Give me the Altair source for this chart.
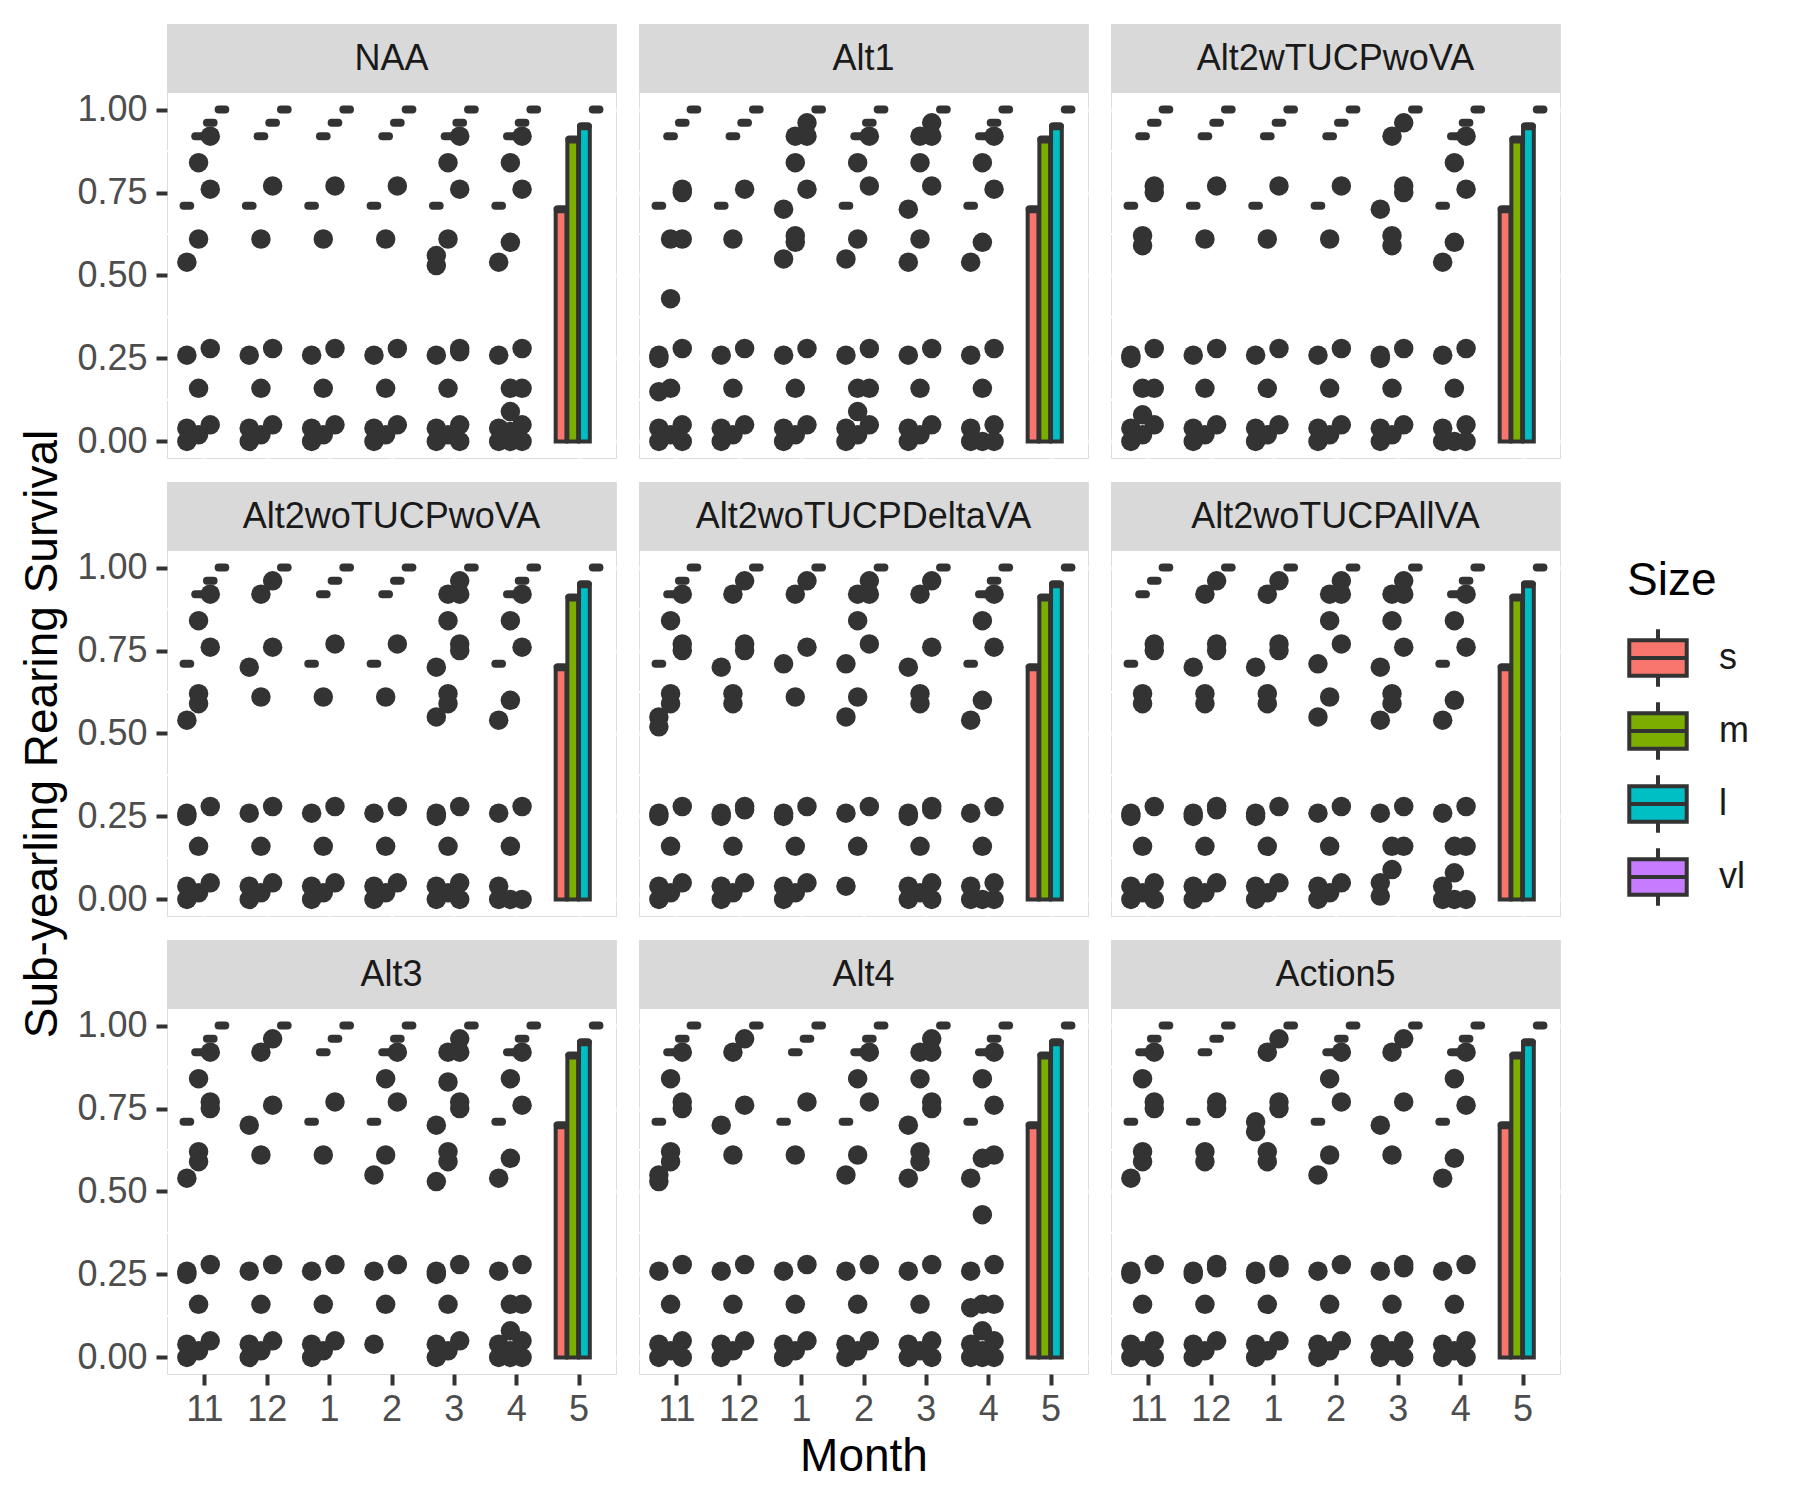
import altair as alt
import pandas as pd

# ---------------- data ----------------
PANELS = ["NAA", "Alt1", "Alt2wTUCPwoVA",
          "Alt2woTUCPwoVA", "Alt2woTUCPDeltaVA", "Alt2woTUCPAllVA",
          "Alt3", "Alt4", "Action5"]
MONTHS = ["11", "12", "1", "2", "3", "4", "5"]
SIZES = ["s", "m", "l", "vl"]
SIZE_COLORS = ["#F8766D", "#7CAE00", "#00BFC4", "#C77CFF"]

# box statistics (same in every panel)
BOX_LEVEL = [0.71, 0.92, 0.96, 1.00]      # months 11..4: q1 = median = q3
MAY_LOWER = [0.0, 0.0, 0.0, 1.00]         # month 5 lower hinge
MAY_UPPER = [0.70, 0.91, 0.95, 1.00]      # month 5 upper hinge (= median)

Y_TICKS = [0.0, 0.25, 0.50, 0.75, 1.00]
Y_MINOR = [0.125, 0.375, 0.625, 0.875]

# outliers per panel: month -> size -> values
OUT_NAA = {
    "11": {"s": [0.54, 0.26, 0.04, 0.0], "m": [0.84, 0.61, 0.16, 0.02], "l": [0.92, 0.76, 0.28, 0.05]},
    "12": {"s": [0.26, 0.04, 0.0], "m": [0.61, 0.16, 0.02], "l": [0.77, 0.28, 0.05]},
    "1": {"s": [0.26, 0.04, 0.0], "m": [0.61, 0.16, 0.02], "l": [0.77, 0.28, 0.05]},
    "2": {"s": [0.26, 0.04, 0.0], "m": [0.61, 0.16, 0.02], "l": [0.77, 0.28, 0.05]},
    "3": {"s": [0.56, 0.53, 0.26, 0.04, 0.0], "m": [0.84, 0.61, 0.16, 0.02], "l": [0.92, 0.76, 0.28, 0.27, 0.05, 0.0]},
    "4": {"s": [0.54, 0.26, 0.04, 0.0], "m": [0.84, 0.60, 0.16, 0.09, 0.03, 0.0], "l": [0.92, 0.76, 0.28, 0.16, 0.05, 0.0]},
}
OUT_ALT1 = {
    "11": {"s": [0.26, 0.25, 0.15, 0.04, 0.0], "m": [0.61, 0.43, 0.16, 0.02], "l": [0.76, 0.75, 0.61, 0.28, 0.05, 0.0]},
    "12": {"s": [0.26, 0.04, 0.0], "m": [0.61, 0.16, 0.02], "l": [0.76, 0.28, 0.05]},
    "1": {"s": [0.70, 0.55, 0.26, 0.04, 0.0], "m": [0.92, 0.84, 0.62, 0.60, 0.16, 0.02], "l": [0.96, 0.92, 0.76, 0.28, 0.05]},
    "2": {"s": [0.55, 0.26, 0.04, 0.0], "m": [0.84, 0.61, 0.16, 0.09, 0.02], "l": [0.92, 0.77, 0.28, 0.16, 0.05]},
    "3": {"s": [0.70, 0.54, 0.26, 0.04, 0.0], "m": [0.92, 0.84, 0.61, 0.16, 0.02], "l": [0.96, 0.92, 0.77, 0.28, 0.05]},
    "4": {"s": [0.54, 0.26, 0.04, 0.0], "m": [0.84, 0.60, 0.16, 0.0], "l": [0.92, 0.76, 0.28, 0.05, 0.0]},
}
OUT_ALT2W = {
    "11": {"s": [0.26, 0.25, 0.04, 0.0], "m": [0.62, 0.59, 0.16, 0.08, 0.02], "l": [0.77, 0.75, 0.28, 0.16, 0.05]},
    "12": {"s": [0.26, 0.04, 0.0], "m": [0.61, 0.16, 0.02], "l": [0.77, 0.28, 0.05]},
    "1": {"s": [0.26, 0.04, 0.0], "m": [0.61, 0.16, 0.02], "l": [0.77, 0.28, 0.05]},
    "2": {"s": [0.26, 0.04, 0.0], "m": [0.61, 0.16, 0.02], "l": [0.77, 0.28, 0.05]},
    "3": {"s": [0.70, 0.26, 0.25, 0.04, 0.0], "m": [0.92, 0.62, 0.59, 0.16, 0.02], "l": [0.96, 0.77, 0.75, 0.28, 0.05]},
    "4": {"s": [0.54, 0.26, 0.04, 0.0], "m": [0.84, 0.60, 0.16, 0.0], "l": [0.92, 0.76, 0.28, 0.05, 0.0]},
}
OUT_ALT2WO = {
    "11": {"s": [0.54, 0.26, 0.25, 0.04, 0.0], "m": [0.84, 0.62, 0.59, 0.16, 0.02], "l": [0.92, 0.76, 0.28, 0.05]},
    "12": {"s": [0.70, 0.26, 0.04, 0.0], "m": [0.92, 0.61, 0.16, 0.02], "l": [0.96, 0.76, 0.28, 0.05]},
    "1": {"s": [0.26, 0.04, 0.0], "m": [0.61, 0.16, 0.02], "l": [0.77, 0.28, 0.05]},
    "2": {"s": [0.26, 0.04, 0.0], "m": [0.61, 0.16, 0.02], "l": [0.77, 0.28, 0.05]},
    "3": {"s": [0.70, 0.55, 0.26, 0.25, 0.04, 0.0], "m": [0.92, 0.84, 0.62, 0.59, 0.16, 0.02], "l": [0.96, 0.92, 0.77, 0.75, 0.28, 0.05, 0.0]},
    "4": {"s": [0.54, 0.26, 0.04, 0.0], "m": [0.84, 0.60, 0.16, 0.0], "l": [0.92, 0.76, 0.28, 0.0]},
}
OUT_DELTA = {
    "11": {"s": [0.55, 0.52, 0.26, 0.25, 0.04, 0.0], "m": [0.84, 0.62, 0.59, 0.16, 0.02], "l": [0.92, 0.77, 0.75, 0.28, 0.05]},
    "12": {"s": [0.70, 0.26, 0.25, 0.04, 0.0], "m": [0.92, 0.62, 0.59, 0.16, 0.02], "l": [0.96, 0.77, 0.75, 0.28, 0.27, 0.05]},
    "1": {"s": [0.71, 0.26, 0.25, 0.04, 0.0], "m": [0.92, 0.61, 0.16, 0.02], "l": [0.96, 0.76, 0.28, 0.05]},
    "2": {"s": [0.71, 0.55, 0.26, 0.04], "m": [0.92, 0.84, 0.61, 0.16], "l": [0.96, 0.92, 0.77, 0.28]},
    "3": {"s": [0.70, 0.26, 0.25, 0.04, 0.0], "m": [0.92, 0.62, 0.59, 0.16, 0.02], "l": [0.96, 0.76, 0.28, 0.27, 0.05, 0.0]},
    "4": {"s": [0.54, 0.26, 0.04, 0.0], "m": [0.84, 0.60, 0.16, 0.0], "l": [0.92, 0.76, 0.28, 0.05, 0.0]},
}
OUT_ALLVA = {
    "11": {"s": [0.26, 0.25, 0.04, 0.0], "m": [0.62, 0.59, 0.16, 0.02], "l": [0.77, 0.75, 0.28, 0.05, 0.0]},
    "12": {"s": [0.70, 0.26, 0.25, 0.04, 0.0], "m": [0.92, 0.62, 0.59, 0.16, 0.02], "l": [0.96, 0.77, 0.75, 0.28, 0.27, 0.05]},
    "1": {"s": [0.70, 0.26, 0.25, 0.04, 0.0], "m": [0.92, 0.62, 0.59, 0.16, 0.02], "l": [0.96, 0.77, 0.75, 0.28, 0.05]},
    "2": {"s": [0.71, 0.55, 0.26, 0.04, 0.0], "m": [0.92, 0.84, 0.61, 0.16, 0.02], "l": [0.96, 0.92, 0.77, 0.28, 0.05]},
    "3": {"s": [0.70, 0.54, 0.26, 0.05, 0.01], "m": [0.92, 0.84, 0.62, 0.59, 0.16, 0.09], "l": [0.96, 0.92, 0.76, 0.28, 0.16]},
    "4": {"s": [0.54, 0.26, 0.04, 0.0], "m": [0.84, 0.60, 0.16, 0.08, 0.0], "l": [0.92, 0.76, 0.28, 0.16, 0.0]},
}
OUT_ALT3 = {
    "11": {"s": [0.54, 0.26, 0.25, 0.04, 0.0], "m": [0.84, 0.62, 0.59, 0.16, 0.02], "l": [0.92, 0.77, 0.75, 0.28, 0.05]},
    "12": {"s": [0.70, 0.26, 0.04, 0.0], "m": [0.92, 0.61, 0.16, 0.02], "l": [0.96, 0.76, 0.28, 0.05]},
    "1": {"s": [0.26, 0.04, 0.0], "m": [0.61, 0.16, 0.02], "l": [0.77, 0.28, 0.05]},
    "2": {"s": [0.55, 0.26, 0.04], "m": [0.84, 0.61, 0.16], "l": [0.92, 0.77, 0.28]},
    "3": {"s": [0.70, 0.53, 0.26, 0.25, 0.04, 0.0], "m": [0.92, 0.83, 0.62, 0.59, 0.16, 0.02], "l": [0.96, 0.92, 0.77, 0.75, 0.28, 0.05]},
    "4": {"s": [0.54, 0.26, 0.04, 0.0], "m": [0.84, 0.60, 0.16, 0.08, 0.02, 0.0], "l": [0.92, 0.76, 0.28, 0.16, 0.05, 0.0]},
}
OUT_ALT4 = {
    "11": {"s": [0.55, 0.53, 0.26, 0.04, 0.0], "m": [0.84, 0.62, 0.59, 0.16, 0.02], "l": [0.92, 0.77, 0.75, 0.28, 0.05, 0.0]},
    "12": {"s": [0.70, 0.26, 0.04, 0.0], "m": [0.92, 0.61, 0.16, 0.02], "l": [0.96, 0.76, 0.28, 0.05]},
    "1": {"s": [0.26, 0.04, 0.0], "m": [0.61, 0.16, 0.02], "l": [0.77, 0.28, 0.05]},
    "2": {"s": [0.55, 0.26, 0.04, 0.0], "m": [0.84, 0.61, 0.16, 0.02], "l": [0.92, 0.77, 0.28, 0.05]},
    "3": {"s": [0.70, 0.54, 0.26, 0.04, 0.0], "m": [0.92, 0.84, 0.62, 0.59, 0.16, 0.02], "l": [0.96, 0.92, 0.77, 0.75, 0.28, 0.05, 0.0]},
    "4": {"s": [0.54, 0.26, 0.15, 0.04, 0.0], "m": [0.84, 0.60, 0.43, 0.16, 0.08, 0.02, 0.0], "l": [0.92, 0.76, 0.61, 0.28, 0.16, 0.05, 0.0]},
}
OUT_ACTION5 = {
    "11": {"s": [0.54, 0.26, 0.25, 0.04, 0.0], "m": [0.84, 0.62, 0.59, 0.16, 0.02], "l": [0.92, 0.77, 0.75, 0.28, 0.05, 0.0]},
    "12": {"s": [0.26, 0.25, 0.04, 0.0], "m": [0.62, 0.59, 0.16, 0.02], "l": [0.77, 0.75, 0.28, 0.27, 0.05]},
    "1": {"s": [0.71, 0.68, 0.26, 0.25, 0.04, 0.0], "m": [0.92, 0.62, 0.59, 0.16, 0.02], "l": [0.96, 0.77, 0.75, 0.28, 0.27, 0.05]},
    "2": {"s": [0.55, 0.26, 0.04, 0.0], "m": [0.84, 0.61, 0.16, 0.02], "l": [0.92, 0.77, 0.28, 0.05]},
    "3": {"s": [0.70, 0.26, 0.04, 0.0], "m": [0.92, 0.61, 0.16, 0.02], "l": [0.96, 0.77, 0.28, 0.27, 0.05, 0.0]},
    "4": {"s": [0.54, 0.26, 0.04, 0.0], "m": [0.84, 0.60, 0.16, 0.02], "l": [0.92, 0.76, 0.28, 0.05, 0.0]},
}
OUTLIERS = [OUT_NAA, OUT_ALT1, OUT_ALT2W, OUT_ALT2WO, OUT_DELTA, OUT_ALLVA,
            OUT_ALT3, OUT_ALT4, OUT_ACTION5]

# ---------------- layout constants ----------------
PANEL_W = 449
DATA_H = 365
STRIP_H = 69
PX_PER_UNIT = DATA_H / 1.1
Y_LO, Y_HI = -0.05, 1.05
Y_TOP = Y_HI + STRIP_H / PX_PER_UNIT
PANEL_H = DATA_H + STRIP_H
X_LO, X_HI = -0.6, len(MONTHS) - 1 + 0.6
DODGE_STEP = 0.75 / len(SIZES)
HALF_BOX = DODGE_STEP * 0.92 / 2
HALF_MED = HALF_BOX * 0.62
FONT = "Liberation Sans"
SMALL = 36
BIG = 46


def xpos(mi, si):
    return mi + (si - (len(SIZES) - 1) / 2) * DODGE_STEP


box_rows, pt_rows, strip_rows = [], [], []
for p, table in zip(PANELS, OUTLIERS):
    for mi, m in enumerate(MONTHS):
        for si, s in enumerate(SIZES):
            if m == MONTHS[-1]:
                lo, hi = MAY_LOWER[si], MAY_UPPER[si]
            else:
                lo = hi = BOX_LEVEL[si]
            xc = xpos(mi, si)
            box_rows.append(dict(panel=p, month=m, size=s, x1=xc - HALF_BOX,
                                 x2=xc + HALF_BOX, m1=xc - HALF_MED, m2=xc + HALF_MED,
                                 lower=lo, upper=hi, middle=hi))
    for m, by_size in table.items():
        mi = MONTHS.index(m)
        for s, vals in by_size.items():
            si = SIZES.index(s)
            for v in vals:
                pt_rows.append(dict(panel=p, month=m, size=s, x=xpos(mi, si), value=v))
    strip_rows.append(dict(panel=p, x1=X_LO, x2=X_HI, y1=Y_HI, y2=Y_TOP,
                           xm=(X_LO + X_HI) / 2, ym=(Y_HI + Y_TOP) / 2))

box_df = pd.DataFrame(box_rows)
pt_df = pd.DataFrame(pt_rows)
strip_df = pd.DataFrame(strip_rows)
minor_df = pd.DataFrame({"v": Y_MINOR})

LABEL_EXPR = "[" + ",".join("'%s'" % m for m in MONTHS) + "][datum.value]"
XS = alt.Scale(domain=[X_LO, X_HI], nice=False, zero=False)
YS = alt.Scale(domain=[Y_LO, Y_TOP], nice=False, zero=False)
CS = alt.Scale(domain=SIZES, range=SIZE_COLORS)
BOX_PATH = "M-1,-0.62H1V0.62H-1Z M-1,0H1 M0,-0.62V-1 M0,0.62V1"

LEG = alt.Legend(title="Size", orient="none", legendX=1460, legendY=535,
                 symbolType=BOX_PATH, symbolSize=3300, symbolStrokeColor="#333333",
                 symbolStrokeWidth=4, symbolOpacity=1,
                 titleFontSize=BIG, titleFontWeight="normal", titleColor="#000000",
                 titleFont=FONT, titlePadding=22,
                 labelFontSize=SMALL, labelColor="#1A1A1A", labelFont=FONT,
                 labelOffset=30, rowPadding=-1)


def make_panel(idx):
    name = PANELS[idx]
    row, col = divmod(idx, 3)
    show_x = row == 2
    show_y = col == 0
    xkw = dict(values=list(range(len(MONTHS))), grid=True, gridColor="white",
               gridWidth=4.5, domain=False, labels=show_x, ticks=show_x)
    if show_x:
        xkw.update(labelExpr=LABEL_EXPR, labelFontSize=SMALL, labelColor="#4D4D4D",
                   labelFont=FONT, tickSize=11, tickWidth=4, tickColor="#333333",
                   labelPadding=7)
    if row == 2 and col == 1:
        xkw.update(title="Month", titleFontSize=BIG, titleFontWeight="normal",
                   titleColor="#000000", titleFont=FONT, titlePadding=7)
    else:
        xkw.update(title=None)
    ykw = dict(values=Y_TICKS, grid=True, gridColor="white", gridWidth=4.5,
               domain=False, labels=show_y, ticks=show_y)
    if show_y:
        ykw.update(format=".2f", labelFontSize=SMALL, labelColor="#4D4D4D",
                   labelFont=FONT, tickSize=11, tickWidth=4, tickColor="#333333",
                   labelPadding=9)
    if row == 1 and col == 0:
        ykw.update(title="Sub-yearling Rearing Survival", titleFontSize=BIG,
                   titleFontWeight="normal", titleColor="#000000", titleFont=FONT,
                   titlePadding=10, titleY=STRIP_H + DATA_H / 2)
    else:
        ykw.update(title=None)
    XA = alt.Axis(**xkw)
    YA = alt.Axis(**ykw)

    bdf = box_df[box_df.panel == name]
    pdf = pt_df[pt_df.panel == name]
    sdf = strip_df[strip_df.panel == name]

    minor = alt.Chart(minor_df).mark_rule(color="white", strokeWidth=2.2).encode(
        y=alt.Y("v:Q", scale=YS, axis=YA))
    strip = alt.Chart(sdf).mark_rect(color="#D9D9D9").encode(
        x=alt.X("x1:Q", scale=XS, axis=XA), x2="x2:Q",
        y=alt.Y("y1:Q", scale=YS, axis=YA), y2="y2:Q")
    strip_text = alt.Chart(sdf).mark_text(font=FONT, fontSize=SMALL, color="#1A1A1A",
                                          baseline="middle", align="center").encode(
        x=alt.X("xm:Q", scale=XS, axis=XA), y=alt.Y("ym:Q", scale=YS, axis=YA),
        text="panel:N")
    boxes = alt.Chart(bdf).mark_bar(stroke="#333333", strokeWidth=4, opacity=1).encode(
        x=alt.X("x1:Q", scale=XS, axis=XA), x2="x2:Q",
        y=alt.Y("lower:Q", scale=YS, axis=YA), y2="upper:Q",
        color=alt.Color("size:N", scale=CS, legend=LEG))
    medians = alt.Chart(bdf).mark_rule(color="#333333", strokeWidth=8,
                                       strokeCap="round").encode(
        x=alt.X("m1:Q", scale=XS, axis=XA), x2="m2:Q",
        y=alt.Y("middle:Q", scale=YS, axis=YA))
    points = alt.Chart(pdf).mark_circle(color="#333333", opacity=1, size=380).encode(
        x=alt.X("x:Q", scale=XS, axis=XA), y=alt.Y("value:Q", scale=YS, axis=YA))
    return alt.layer(minor, strip, strip_text, boxes, medians, points).properties(
        width=PANEL_W, height=PANEL_H)


chart = alt.concat(*[make_panel(i) for i in range(len(PANELS))], columns=3,
                   spacing={"row": 24, "column": 23}, bounds="flush").resolve_scale(
    color="shared").resolve_legend(color="shared").properties(
    padding={"left": 19, "top": 23, "right": 5, "bottom": 5}).configure_view(
    fill="#EBEBEB", strokeWidth=0).configure(font=FONT, background="white")

chart.save("out.html", embed_options={"renderer": "svg", "actions": False})
